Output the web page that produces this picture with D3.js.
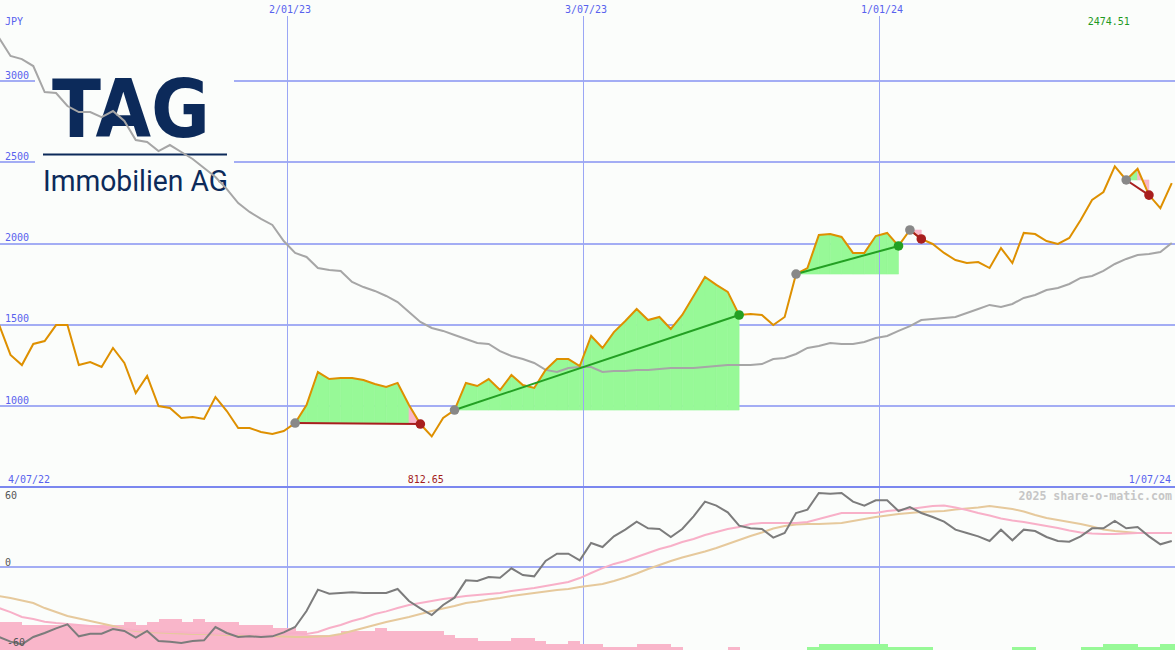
<!DOCTYPE html>
<html><head><meta charset="utf-8">
<script src="https://cdn.jsdelivr.net/npm/d3@7"></script>
<style>html,body{margin:0;padding:0;background:#fbfdfb;} svg{display:block}</style>
</head><body><svg id="c" width="1175" height="650"></svg>
<script>
// ---------- data ----------
const firstWeek = "2022-07-09";           // weekly observations
const price = [1500, 1314, 1252, 1382, 1400, 1498, 1498, 1252, 1271, 1240,
 1357, 1265, 1080, 1185, 1000, 988, 926, 932, 920, 1055,
 969, 865, 865, 840, 828, 846, 895, 1006, 1209, 1166,
 1172, 1172, 1160, 1135, 1117, 1142, 1006, 889, 812.65, 926,
 975, 1142, 1123, 1166, 1098, 1191, 1129, 1111, 1222, 1289,
 1289, 1246, 1431, 1357, 1455, 1523, 1597, 1529, 1548, 1474,
 1560, 1677, 1794, 1745, 1702, 1560, 1566, 1560, 1498, 1548,
 1812, 1849, 2052, 2058, 2040, 1942, 1942, 2046, 2065, 1985,
 2083, 2028, 1997, 1942, 1898, 1880, 1886, 1849, 1972, 1880,
 2065, 2058, 2015, 1997, 2034, 2145, 2268, 2317, 2474.51, 2391,
 2460, 2298, 2218, 2372];
const movingAvg = [3265, 3154, 3135, 3092, 2932, 2926, 2846, 2809, 2809, 2778,
 2815, 2754, 2637, 2625, 2569, 2606, 2563, 2520, 2465, 2409,
 2335, 2249, 2194, 2151, 2114, 2015, 1942, 1917, 1849, 1837,
 1831, 1763, 1732, 1708, 1677, 1640, 1578, 1517, 1480, 1462,
 1437, 1412, 1388, 1382, 1338, 1308, 1289, 1265, 1222, 1209,
 1234, 1240, 1240, 1209, 1215, 1215, 1222, 1222, 1228, 1234,
 1234, 1234, 1240, 1246, 1252, 1252, 1252, 1258, 1289, 1295,
 1320, 1357, 1369, 1388, 1382, 1382, 1394, 1418, 1431, 1462,
 1492, 1529, 1535, 1542, 1548, 1572, 1597, 1622, 1609, 1628,
 1665, 1683, 1714, 1726, 1751, 1788, 1800, 1831, 1874, 1905,
 1929, 1935, 1948, 2003];
const oscillator = [-52.5, -56, -58, -52.5, -49.5, -46, -43, -52, -50, -50,
 -46.5, -48, -53, -48, -55.5, -56, -57, -55.5, -55, -45,
 -49.5, -52.5, -52, -52.5, -52, -49, -45, -33, -17, -20,
 -19.5, -19, -19.5, -19.5, -19.5, -16.5, -25.5, -31, -36, -28.5,
 -23, -10, -10.5, -7.5, -8, -1, -6, -7, 4.5, 10,
 10, 5, 18, 15, 23, 28, 34, 29, 28.5, 22.5,
 28.5, 38, 49, 46, 41, 31, 29, 28.5, 22, 25.5,
 40.5, 43, 55.5, 55, 55.5, 49, 46, 50, 50, 42,
 45, 40.5, 37.5, 34, 28, 25.5, 23, 19.5, 28, 20,
 28, 27, 22.5, 19.5, 19, 23, 29, 29, 34.5, 29,
 30, 23, 17, 19.5];
const oscFast = [-30.8, -33.8, -37.5, -39, -41, -42, -42.8, -43.5, -44.3, -45,
 -45.8, -46.5, -47.3, -48, -48.4, -48.8, -49, -49.5, -49.5, -50,
 -50.3, -50.3, -50.6, -51, -51, -50.3, -49.5, -50.3, -48.8, -45.8,
 -43.5, -40.5, -38.3, -35.3, -33.3, -30.8, -28.5, -27, -25.5, -24,
 -22.9, -21.8, -21, -20.3, -19.5, -18, -16.9, -15.8, -14.3, -12.8,
 -11.3, -8.3, -4.5, -0.8, 2.3, 4.5, 7.5, 10.5, 13.5, 15.8,
 18.8, 21, 24, 26.3, 28.5, 30, 32.3, 33, 33, 33,
 33, 33.8, 36, 38.3, 40.5, 40.5, 40.5, 40.5, 42, 42.8,
 43.5, 44.6, 45.8, 46.1, 44.6, 42.8, 40.5, 38.6, 36.4, 34.9,
 33.8, 32.3, 30.8, 29.3, 27.4, 25.9, 25.1, 24.8, 24.8, 25.1,
 25.5, 25.5, 25.5, 25.5];
const oscSlow = [-21.8, -23.3, -25.1, -27, -30.8, -33.8, -36.8, -38.6, -40.5, -42.4,
 -44.3, -46.5, -48, -48.8, -49.1, -49.5, -49.9, -50.3, -50.3, -50.6,
 -51, -51, -51.4, -51.8, -51.8, -52.1, -52.5, -52.5, -52.1, -51.8,
 -50.3, -48, -45.8, -43.5, -41.3, -39.4, -37.5, -35.3, -33, -31.1,
 -29.3, -27, -25.9, -24.4, -23.3, -21.8, -20.6, -19.5, -18.4, -17.3,
 -16.5, -15, -13.9, -12.8, -10.5, -7.9, -4.9, -1.5, 1.5, 4.5,
 7.1, 9.4, 11.6, 14.3, 17.3, 20.3, 23.3, 25.9, 28.9, 30.8,
 31.9, 32.3, 32.3, 32.6, 33, 34.5, 36, 37.5, 38.6, 39.8,
 40.5, 41.3, 41.6, 42, 43.1, 43.9, 44.6, 45.8, 44.6, 43.5,
 41.6, 39, 36.8, 35.3, 33.8, 32.3, 30.4, 28.1, 27, 26.3,
 25.5, 25.5, 25.5, 25.5];
const strength = [-9,-9,-8,-8,-8,-8,-8,-8,-8,-8,
 -8,-9,-8,-9,-10,-10,-9,-10,-9,-9,
 -9,-8,-8,-8,-7,-7,-6,-5,-5,-5,
 -6,-6,-6,-7,-6,-6,-6,-6,-6,-5,
 -4,-4,-3,-3,-3,-4,-4,-3,-2,-2,
 -3,-2,-2,-1,-1,-1,-2,-2,-2,-1,
 0,0,0,0,-1,0,0,0,0,0,
 0,1,2,2,2,2,2,2,1,1,
 1,1,0,0,0,0,0,0,0,1,
 1,0,0,0,0,1,1,2,2,2,
 1,1,2,2];
const tradeEntry = [26, 40, 70, 80, 99];   // week index of entry signal
const tradeExit  = [37, 65, 79, 81, 101];  // week index of exit signal
const priceTicks = [1000, 1500, 2000, 2500, 3000];
const oscTicks = [60, 0, -60];
const gridDates = ["2023-01-02", "2023-07-03", "2024-01-01"];
const gridLabels = ["2/01/23", "3/07/23", "1/01/24"];
const rangeStart = "2022-07-04", rangeEnd = "2024-07-01";
const startLabel = "4/07/22", endLabel = "1/07/24";
const currency = "JPY";
const watermark = "2025 share-o-matic.com";

// ---------- scales ----------
const W = 1175, H = 650;
const parse = d3.utcParse("%Y-%m-%d");
const t0 = parse(firstWeek);
const dates = price.map((_, i) => d3.utcDay.offset(t0, 7 * i));
const x = d3.scaleUtc().domain([parse(rangeStart), parse(rangeEnd)]).range([-9, W]);
const y = d3.scaleLinear().domain([1000, 3000]).range([406, 81]);
const y2 = d3.scaleLinear().domain([-60, 60]).range([647, 487]);
const hb = d3.scaleLinear().domain([0, 10]).range([0, 31]);

const C = {
  bg: "#fbfdfb", grid: "#a3adf4", vgrid: "#9aa6f5", sep: "#7b87ef", label: "#5862ee",
  price: "#de9000", ma: "#a6a6a6", green: "#97f997", pink: "#f9b6ca",
  gline: "#23a023", rline: "#a81e1e", osc: "#7c7c7c", fast: "#f8b0c8", slow: "#e6c99c",
  navy: "#0c2a5a"
};
const MONO = "'DejaVu Sans Mono', monospace";

const svg = d3.select("#c");
svg.append("rect").attr("width", W).attr("height", H).attr("fill", C.bg);

// horizontal grid
const gH = svg.append("g").attr("shape-rendering", "crispEdges");
gH.selectAll("line.p").data(priceTicks).join("line")
  .attr("x1", 0).attr("x2", W).attr("y1", d => y(d)).attr("y2", d => y(d))
  .attr("stroke", C.grid).attr("stroke-width", 2);
gH.append("line").attr("x1", 0).attr("x2", W).attr("y1", y2(0)).attr("y2", y2(0))
  .attr("stroke", C.grid).attr("stroke-width", 2);

// logo
const logo = svg.append("g");
logo.append("rect").attr("x", 35).attr("y", 60).attr("width", 199).attr("height", 142).attr("fill", C.bg);
logo.append("text").attr("x", 52).attr("y", 137).text("TAG")
  .attr("font-family", "'DejaVu Sans', 'Liberation Sans', sans-serif").attr("font-weight", "bold")
  .attr("font-size", 81).attr("textLength", 158).attr("lengthAdjust", "spacingAndGlyphs").attr("fill", C.navy);
logo.append("line").attr("x1", 43).attr("x2", 227).attr("y1", 154.5).attr("y2", 154.5)
  .attr("stroke", C.navy).attr("stroke-width", 2);
logo.append("text").attr("x", 43).attr("y", 191).text("Immobilien AG")
  .attr("font-family", "Roboto, 'Open Sans', sans-serif")
  .attr("font-size", 29.5).attr("textLength", 185).attr("lengthAdjust", "spacingAndGlyphs").attr("fill", C.navy);

// trade fills (per weekly segment, coloured by whether the segment ends above entry)
const fills = svg.append("g");
tradeEntry.forEach((a, k) => {
  const b = tradeExit[k], p = price[a];
  for (let i = a; i < b; i++) {
    const col = price[i + 1] >= p ? C.green : C.pink;
    const pts = [[x(dates[i]), y(p)], [x(dates[i]), y(price[i])],
                 [x(dates[i + 1]), y(price[i + 1])], [x(dates[i + 1]), y(p)]];
    fills.append("polygon").attr("points", pts.map(q => q.join(",")).join(" "))
      .attr("fill", col).attr("stroke", col).attr("stroke-width", 0.6);
  }
});

// vertical grid
const gV = svg.append("g").attr("shape-rendering", "crispEdges");
gridDates.forEach((d, i) => {
  const xv = Math.round(x(parse(d))) + 0.5;
  gV.append("line").attr("x1", xv).attr("x2", xv).attr("y1", 16).attr("y2", H)
    .attr("stroke", C.vgrid).attr("stroke-width", 1);
});

// separator
svg.append("line").attr("x1", 0).attr("x2", W).attr("y1", 487).attr("y2", 487)
  .attr("stroke", C.sep).attr("stroke-width", 2).attr("shape-rendering", "crispEdges");

// strength bars (lower panel)
svg.append("g").attr("shape-rendering", "crispEdges")
  .selectAll("rect").data(strength.map((v, i) => ({ v, i }))).join("rect")
  .attr("x", d => x(dates[d.i]))
  .attr("width", d => x(d3.utcDay.offset(dates[d.i], 7)) - x(dates[d.i]) + 0.5)
  .attr("y", d => H - hb(Math.abs(d.v)))
  .attr("height", d => hb(Math.abs(d.v)))
  .attr("fill", d => d.v < 0 ? C.pink : C.green);

// main lines
const line = (arr, sc) => d3.line().x((d, i) => x(dates[i])).y(d => sc(d))(arr);
svg.append("path").attr("d", line(movingAvg, y)).attr("fill", "none").attr("stroke", C.ma).attr("stroke-width", 2);
svg.append("path").attr("d", line(price, y)).attr("fill", "none").attr("stroke", C.price).attr("stroke-width", 2);

// trade lines and markers
tradeEntry.forEach((a, k) => {
  const b = tradeExit[k];
  const win = price[b] >= price[a];
  svg.append("line").attr("x1", x(dates[a])).attr("y1", y(price[a]))
    .attr("x2", x(dates[b])).attr("y2", y(price[b]))
    .attr("stroke", win ? C.gline : C.rline).attr("stroke-width", 2);
  svg.append("circle").attr("cx", x(dates[a])).attr("cy", y(price[a])).attr("r", 4.8).attr("fill", "#888888");
  svg.append("circle").attr("cx", x(dates[b])).attr("cy", y(price[b])).attr("r", 4.8).attr("fill", win ? C.gline : C.rline);
});

// oscillator lines
svg.append("path").attr("d", line(oscSlow, y2)).attr("fill", "none").attr("stroke", C.slow).attr("stroke-width", 2);
svg.append("path").attr("d", line(oscFast, y2)).attr("fill", "none").attr("stroke", C.fast).attr("stroke-width", 2);
svg.append("path").attr("d", line(oscillator, y2)).attr("fill", "none").attr("stroke", C.osc).attr("stroke-width", 2);

// labels
const txt = (s, xx, yy, col, anchor) => svg.append("text").attr("x", xx).attr("y", yy).text(s)
  .attr("font-family", MONO).attr("font-size", 10).attr("fill", col).attr("text-anchor", anchor || "start");
txt(currency, 5, 25, C.label);
priceTicks.forEach(v => txt(String(v), 5, y(v) - 2.5, C.label));
gridDates.forEach((d, i) => txt(gridLabels[i], x(parse(d)) + 3, 12.5, C.label, "middle"));
txt(startLabel, 8, 483, C.label);
txt(endLabel, 1171, 483, C.label, "end");
const iMax = d3.maxIndex(price), iMin = d3.minIndex(price);
txt(d3.format(".2f")(price[iMax]), x(dates[iMax]) - 6, 24.5, "#1f9a1f", "middle");
txt(d3.format(".2f")(price[iMin]), x(dates[iMin]) - 6, 483, "#a31c1c", "middle");
txt(String(oscTicks[0]), 5, y2(oscTicks[0]) + 12, "#555555");
txt(String(oscTicks[1]), 5, y2(oscTicks[1]) - 1.5, "#555555");
txt(String(oscTicks[2]), 7, y2(oscTicks[2]) - 1, "#555555");
svg.append("text").attr("x", 1172).attr("y", 500).text(watermark)
  .attr("font-family", MONO).attr("font-weight", "bold").attr("font-size", 11.6)
  .attr("fill", "#c6c6c6").attr("text-anchor", "end");
</script></body></html>
